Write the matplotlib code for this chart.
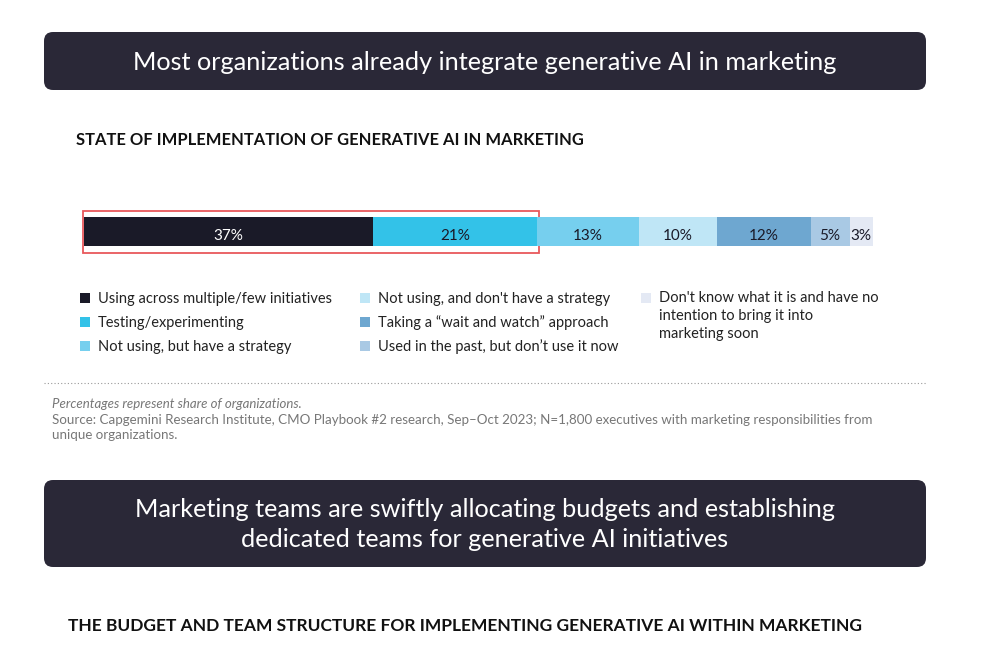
import matplotlib
matplotlib.use("Agg")
import matplotlib.pyplot as plt
from matplotlib.patches import FancyBboxPatch, Rectangle

categories = [
    "Using across multiple/few initiatives",
    "Testing/experimenting",
    "Not using, but have a strategy",
    "Not using, and don't have a strategy",
    "Taking a \u201cwait and watch\u201d approach",
    "Used in the past, but don\u2019t use it now",
    "Don't know what it is and have no\nintention to bring it into\nmarketing soon",
]
values = [37, 21, 13, 10, 12, 5, 3]
colors = ["#1a1a28", "#33c2e8", "#76cfee", "#bfe6f6", "#6ea7d0", "#a9c9e4", "#e4e9f4"]
text_colors = ["white", "#1a1a28", "#1a1a28", "#1a1a28", "#1a1a28", "#1a1a28", "#1a1a28"]

FONT = ["Lato", "DejaVu Sans"]
W, H = 997, 658
fig = plt.figure(figsize=(W / 100, H / 100), dpi=100)
bg = fig.add_axes([0, 0, 1, 1])
bg.set_xlim(0, W)
bg.set_ylim(H, 0)
bg.axis("off")

# header boxes
for (y0, y1, txt) in [(32, 90, "Most organizations already integrate generative AI in marketing"),
                      (480, 567, "Marketing teams are swiftly allocating budgets and establishing\ndedicated teams for generative AI initiatives")]:
    bg.add_patch(FancyBboxPatch((44, y0), 882, y1 - y0,
                                boxstyle="round,pad=0,rounding_size=9",
                                facecolor="#2a2837", edgecolor="none"))
    bg.text(485, (y0 + y1) / 2 + 1, txt, color="white", ha="center", va="center",
            fontsize=18.2, family=FONT, linespacing=1.4)

bg.text(76, 140, "STATE OF IMPLEMENTATION OF GENERATIVE AI IN MARKETING", fontsize=11.9,
        fontweight="bold", family=FONT, va="center", ha="left", color="#111111")
bg.text(68, 626, "THE BUDGET AND TEAM STRUCTURE FOR IMPLEMENTING GENERATIVE AI WITHIN MARKETING",
        fontsize=12.5, fontweight="bold", family=FONT, va="center", ha="left", color="#111111")

# bar axes
x0, x1 = 84, 873
yb0, yb1 = 217, 246
bax = fig.add_axes([x0 / W, 1 - yb1 / H, (x1 - x0) / W, (yb1 - yb0) / H])
total = sum(values)
left = 0
for v, c, tc in zip(values, colors, text_colors):
    bax.barh(0, v, left=left, height=1, color=c, edgecolor="none")
    bax.text(left + v / 2, -0.15, f"{v}%", ha="center", va="center", color=tc,
             fontsize=11, family=FONT)
    left += v
bax.set_xlim(0, total)
bax.set_ylim(-0.5, 0.5)
bax.axis("off")

# red highlight
bg.add_patch(Rectangle((83, 210.5), 456, 42, facecolor="none", edgecolor="#e8585c", linewidth=1.3))

# legend
cols = [(80, [0, 1, 2]), (360, [3, 4, 5]), (641, [6])]
rows = [298, 322, 346]
for cx, idxs in cols:
    for r, i in enumerate(idxs):
        y = rows[r]
        bg.add_patch(Rectangle((cx, y - 5), 10, 10, facecolor=colors[i], edgecolor="none"))
        if "\n" in categories[i]:
            bg.text(cx + 18, y - 7, categories[i], fontsize=10.5, family=FONT, va="top",
                    ha="left", color="#222222", linespacing=1.36)
        else:
            bg.text(cx + 18, y + 1, categories[i], fontsize=10.5, family=FONT, va="center",
                    ha="left", color="#222222")

# dotted separator
bg.plot([44, 926], [383, 383], linestyle=(0, (1, 2)), color="#999999", linewidth=0.8)

bg.text(52, 404, "Percentages represent share of organizations.", fontsize=9.5, style="italic",
        family=FONT, color="#777777", va="center", ha="left")
bg.text(52, 414, "Source: Capgemini Research Institute, CMO Playbook #2 research, Sep\u2013Oct 2023; N=1,800 executives with marketing responsibilities from\nunique organizations.",
        fontsize=9.6, family=FONT, color="#777777", va="top", ha="left", linespacing=1.3)

fig.savefig("out.png", dpi=100, facecolor="white")
